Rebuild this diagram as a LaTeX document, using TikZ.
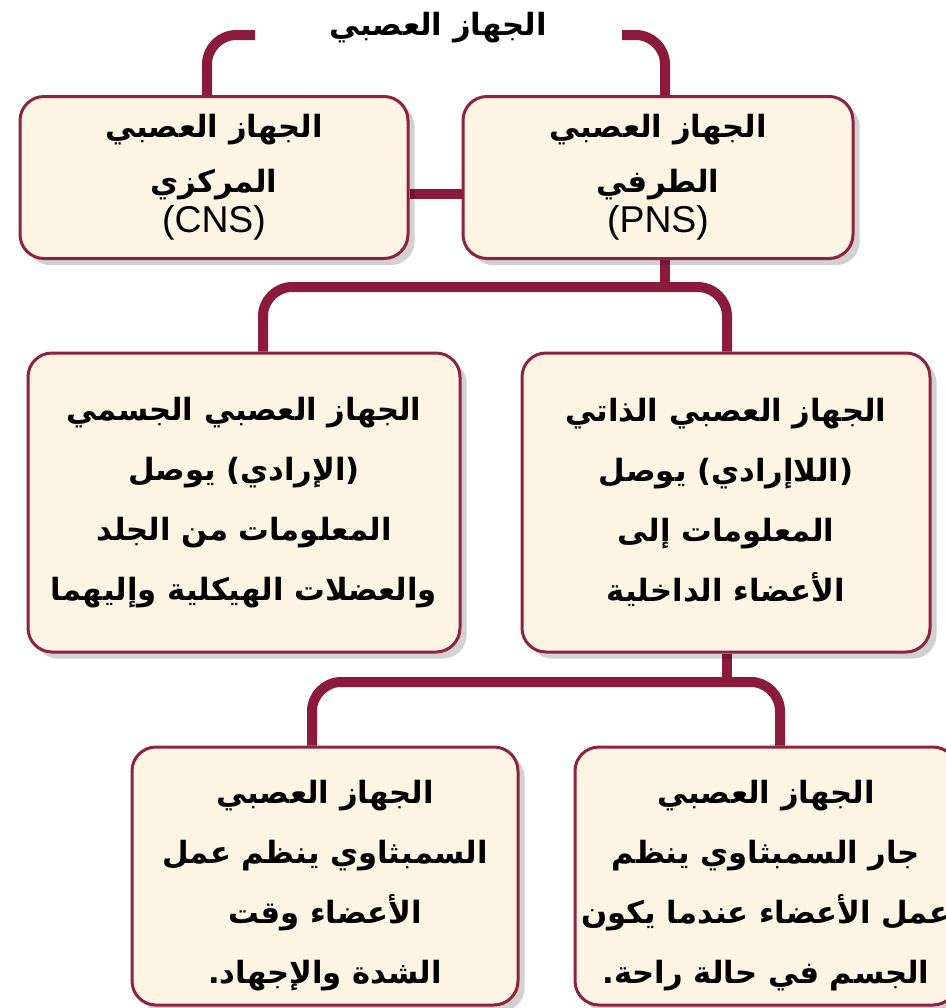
\documentclass[tikz,border=0pt]{standalone}
\usepackage{fontspec}
\TeXXeTstate=1
\newfontfamily\arabicfont[Script=Arabic]{DejaVu Sans}
\newfontfamily\latinfont{Liberation Sans}
\usetikzlibrary{shadows}
\pgfdeclarelayer{bg}
\pgfsetlayers{bg,main}
\definecolor{connred}{HTML}{8C1A3C}
\definecolor{cream}{HTML}{FDF4E3}
\definecolor{boxedge}{HTML}{8E2340}
\begin{document}
\begin{tikzpicture}[x=0.75pt,y=-0.75pt,
  box/.style={draw=boxedge, line width=2.25pt, fill=cream, rounded corners=18pt,
    align=center, inner sep=0pt,
    drop shadow={shadow xshift=5pt,shadow yshift=-5pt,opacity=0.18,fill=black}},
  conn/.style={draw=connred, line width=7.5pt, rounded corners=22pt},
  ab/.style={font=\arabicfont\bfseries\fontsize{23}{45}\selectfont},
  abtop/.style={font=\arabicfont\bfseries\fontsize{23}{41}\selectfont}
]
\useasboundingbox (0,0) rectangle (946,1008);
\begin{pgfonlayer}{bg}
\fill[white] (0,0) rectangle (946,1008);
\end{pgfonlayer}

% title
\node[ab] (title) at (438,28) {\beginR الجهاز العصبي\endR};

% boxes
\node[box, abtop, minimum width=291pt, minimum height=121.5pt] (cns) at (214,177.5)
  {\beginR الجهاز العصبي\endR\\\beginR المركزي\endR\\[-11pt]{\latinfont\mdseries\fontsize{28}{30}\selectfont (CNS)}};
\node[box, abtop, minimum width=292.5pt, minimum height=121.5pt] (pns) at (658,177.5)
  {\beginR الجهاز العصبي\endR\\\beginR الطرفي\endR\\[-11pt]{\latinfont\mdseries\fontsize{28}{30}\selectfont (PNS)}};
\node[box, ab, minimum width=324pt, minimum height=224.25pt] (som) at (244,502.5)
  {\beginR الجهاز العصبي الجسمي\endR\\\beginR (الإرادي) يوصل\endR\\\beginR المعلومات من الجلد\endR\\\beginR والعضلات الهيكلية وإليهما\endR};
\node[box, ab, minimum width=306pt, minimum height=224.25pt] (aut) at (726,502.5)
  {\beginR الجهاز العصبي الذاتي\endR\\\beginR (اللاإرادي) يوصل\endR\\\beginR المعلومات إلى\endR\\\beginR الأعضاء الداخلية\endR};
\node[box, minimum width=289.5pt, minimum height=193.5pt,
  label={[ab, align=center, yshift=-7pt]center:{\beginR الجهاز العصبي\endR\\\beginR السمبثاوي ينظم عمل\endR\\\beginR الأعضاء وقت\endR\\\beginR الشدة والإجهاد.\endR}}]
  (sym) at (325,876) {};
\node[box, minimum width=286.5pt, minimum height=193.5pt,
  label={[ab, align=center, yshift=-7pt]center:{\beginR الجهاز العصبي\endR\\\beginR جار السمبثاوي ينظم\endR\\\beginR عمل الأعضاء عندما يكون\endR\\\beginR الجسم في حالة راحة.\endR}}]
  (para) at (766,876) {};

% connectors
\coordinate (tl) at (255,35);
\coordinate (tr) at (622,35);
\coordinate (j1) at (665,287);
\coordinate (j2) at (727,682);
\begin{pgfonlayer}{bg}
\draw[conn] (tl) -| ([xshift=-5.25pt]cns.north);
\draw[conn] (tr) -| ([xshift=5.25pt]pns.north);
\draw[conn] ([yshift=-12pt]cns.east) -- ([yshift=-12pt]pns.west);
\draw[conn] ([xshift=5.25pt]pns.south) -- (j1);
\draw[conn] ([xshift=14.25pt]som.north) |- (j1) -| ([xshift=0.75pt]aut.north);
\draw[conn] ([xshift=0.75pt]aut.south) -- (j2);
\draw[conn] ([xshift=-9.75pt]sym.north) |- (j2) -| ([xshift=10.5pt]para.north);
\end{pgfonlayer}
\end{tikzpicture}
\end{document}
